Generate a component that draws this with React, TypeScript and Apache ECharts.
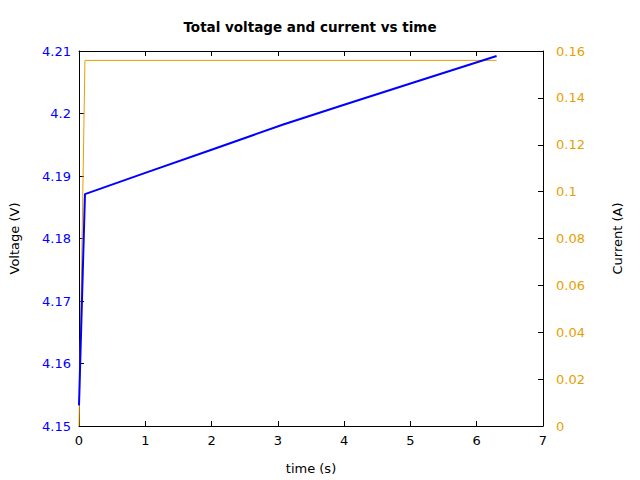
import { useEffect, useRef } from "react";
import * as echarts from "echarts";

// time (s), voltage (V) and current (A)
const voltageTime = [0, 0.09, 1, 2, 3.07, 4, 5, 6.3];
const voltage = [4.1533, 4.1871, 4.1905, 4.1942, 4.1982, 4.2014, 4.2048, 4.2092];
const currentTime = [0, 0.09, 6.3];
const current = [0, 0.156, 0.156];

const FONT = "DejaVu Sans";
const BLUE = "#0000ff";
const ORANGE = "#e69f00";

const App = () => {
  const chartRef = useRef(null);

  useEffect(() => {
    document.body.style.margin = "0";
    const chart = echarts.init(chartRef.current, null, { renderer: "svg" });

    const tick = { show: true, inside: true, length: 5, lineStyle: { color: "#000" } };
    const line = { show: true, onZero: false, lineStyle: { color: "#000", width: 1 } };

    const option: any = {
      animation: false,
      title: {
        text: "Total voltage and current vs time",
        left: 305,
        textAlign: "center",
        top: 15,
        textStyle: { fontFamily: FONT, fontSize: 13.5, fontWeight: "bold", color: "#000" },
      },
      grid: { left: 78, right: 97, top: 51, bottom: 54 },
      xAxis: [
        {
          type: "value",
          min: 0,
          max: 7,
          interval: 1,
          name: "time (s)",
          nameLocation: "middle",
          nameGap: 36,
          nameTextStyle: { fontFamily: FONT, fontSize: 13, color: "#000" },
          axisLine: line,
          axisTick: tick,
          axisLabel: { fontFamily: FONT, fontSize: 13, color: "#000", margin: 8 },
          splitLine: { show: false },
        },
        {
          type: "value",
          position: "top",
          min: 0,
          max: 7,
          interval: 1,
          axisLine: line,
          axisTick: tick,
          axisLabel: { show: false },
          splitLine: { show: false },
        },
      ],
      yAxis: [
        {
          type: "value",
          min: 4.15,
          max: 4.21,
          interval: 0.01,
          name: "Voltage (V)",
          nameLocation: "middle",
          nameGap: 58,
          nameTextStyle: { fontFamily: FONT, fontSize: 13, color: "#000" },
          axisLine: line,
          axisTick: tick,
          axisLabel: { fontFamily: FONT, fontSize: 13, color: BLUE, margin: 8 },
          splitLine: { show: false },
        },
        {
          type: "value",
          position: "right",
          min: 0,
          max: 0.16,
          interval: 0.02,
          name: "Current (A)",
          nameLocation: "middle",
          nameGap: 68,
          nameTextStyle: { fontFamily: FONT, fontSize: 13, color: "#000" },
          axisLine: line,
          axisTick: tick,
          axisLabel: { fontFamily: FONT, fontSize: 13, color: ORANGE, margin: 13 },
          splitLine: { show: false },
        },
      ],
      series: [
        {
          name: "Current",
          type: "line",
          xAxisIndex: 0,
          yAxisIndex: 1,
          data: currentTime.map((t, i) => [t, current[i]]),
          showSymbol: false,
          lineStyle: { color: ORANGE, width: 1 },
        },
        {
          name: "Voltage",
          type: "line",
          xAxisIndex: 0,
          yAxisIndex: 0,
          data: voltageTime.map((t, i) => [t, voltage[i]]),
          showSymbol: false,
          lineStyle: { color: BLUE, width: 2 },
        },
      ],
    };

    chart.setOption(option);

    return () => {
      chart.dispose();
    };
  }, []);

  return <div ref={chartRef} style={{ width: "640px", height: "480px" }} />;
};

export default App;
